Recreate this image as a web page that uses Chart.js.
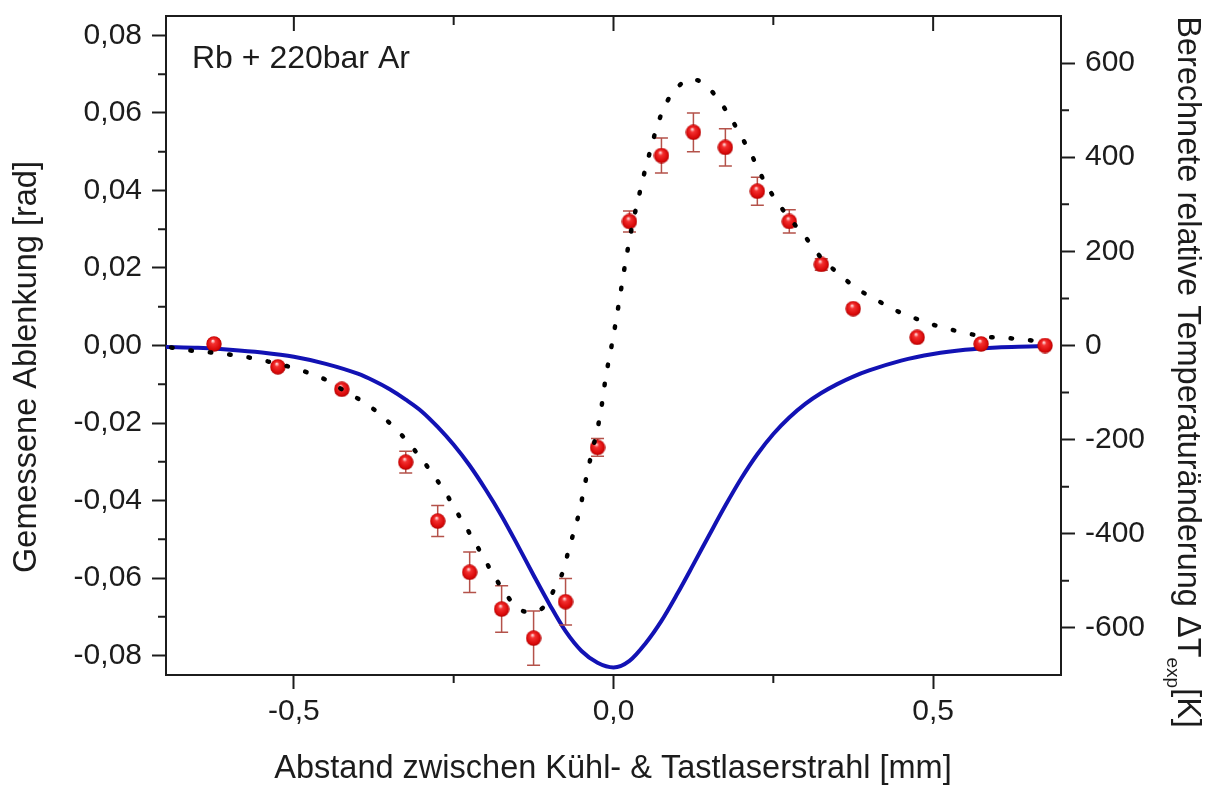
<!DOCTYPE html>
<html lang="de">
<head>
<meta charset="utf-8">
<title>Ablenkung</title>
<script src="https://cdn.jsdelivr.net/npm/chart.js@4.4.1/dist/chart.umd.min.js"></script>
<style>
  html, body { margin: 0; padding: 0; background: #fff; }
  #grafico { display: block; }
</style>
</head>
<body>
<canvas id="grafico" width="1207" height="785"></canvas>
<script>
// Messpunkte: Abstand [mm], Ablenkung [rad], Fehler [rad]
const abstandMess = [-0.625, -0.525, -0.425, -0.325, -0.275, -0.225, -0.175, -0.125, -0.075, -0.025,
                     0.025, 0.075, 0.125, 0.175, 0.225, 0.275, 0.325, 0.375, 0.475, 0.575, 0.675];
const ablenkungMess = [0.0004, -0.0055, -0.0113, -0.0301, -0.0453, -0.0585, -0.0680, -0.0755, -0.0661, -0.0263,
                       0.0320, 0.0490, 0.0550, 0.0511, 0.0398, 0.0320, 0.0209, 0.0095, 0.0021, 0.0004, 0.0000];
const fehlerMess = [0.0008, 0.0008, 0.0010, 0.0028, 0.0040, 0.0052, 0.0060, 0.0070, 0.0060, 0.0023,
                    0.0027, 0.0045, 0.0050, 0.0048, 0.0036, 0.0030, 0.0015, 0.0010, 0.0008, 0.0005, 0.0005];

// Gepunktete Modellkurve (linke Achse)
const abstandModell = [-0.692, -0.661, -0.630, -0.602, -0.570, -0.541, -0.509, -0.478, -0.448, -0.419,
                       -0.387, -0.358, -0.328, -0.302, -0.280, -0.259, -0.241, -0.223, -0.206, -0.189,
                       -0.169, -0.150, -0.135, -0.122, -0.109, -0.092, -0.078, -0.070, -0.061, -0.053,
                       -0.047, -0.041, -0.033, -0.025, -0.018, -0.012, -0.006, 0.000, 0.005, 0.010,
                       0.015, 0.020, 0.027, 0.032, 0.039, 0.046, 0.053, 0.061, 0.070, 0.084,
                       0.105, 0.120, 0.136, 0.150, 0.164, 0.183, 0.200, 0.217, 0.232, 0.250,
                       0.273, 0.300, 0.323, 0.350, 0.381, 0.413, 0.442, 0.472, 0.503, 0.533,
                       0.563, 0.594, 0.625, 0.655, 0.680];
const ablenkungModell = [-0.0005, -0.0013, -0.0018, -0.0023, -0.0031, -0.0041, -0.0054, -0.0070, -0.0090, -0.0119,
                         -0.0150, -0.0188, -0.0237, -0.0289, -0.0338, -0.0390, -0.0441, -0.0490, -0.0539, -0.0588,
                         -0.0640, -0.0677, -0.0687, -0.0686, -0.0674, -0.0627, -0.0578, -0.0526, -0.0475, -0.0426,
                         -0.0377, -0.0328, -0.0270, -0.0215, -0.0150, -0.0080, -0.0027, 0.0026, 0.0075, 0.0125,
                         0.0178, 0.0227, 0.0290, 0.0330, 0.0380, 0.0430, 0.0475, 0.0524, 0.0575, 0.0630,
                         0.0674, 0.0687, 0.0681, 0.0662, 0.0635, 0.0588, 0.0539, 0.0488, 0.0436, 0.0385,
                         0.0333, 0.0280, 0.0230, 0.0188, 0.0147, 0.0116, 0.0090, 0.0070, 0.0052, 0.0039,
                         0.0028, 0.0021, 0.0018, 0.0013, 0.0010];

// Berechnete Temperaturänderung [K] (rechte Achse)
const abstandTemp = [-0.700, -0.650, -0.600, -0.550, -0.500, -0.450, -0.400, -0.375, -0.350, -0.325,
                     -0.300, -0.275, -0.250, -0.225, -0.200, -0.175, -0.150, -0.125, -0.100, -0.075,
                     -0.050, -0.025, 0.000, 0.025, 0.050, 0.075, 0.100, 0.125, 0.150, 0.175,
                     0.200, 0.225, 0.250, 0.275, 0.300, 0.325, 0.350, 0.375, 0.400, 0.450,
                     0.500, 0.550, 0.600, 0.650, 0.675];
const temperaturTemp = [-3, -5, -9, -15, -24, -39, -60, -75, -93, -115,
                        -140, -173, -211, -255, -306, -362, -424, -488, -550, -607,
                        -649, -674, -684, -670, -633, -585, -527, -465, -402, -340,
                        -282, -231, -188, -153, -124, -101, -82, -66, -53, -32,
                        -18, -9, -4, -2, -1];

// Achsenbeschriftung
const ticksX = [-0.5, 0, 0.5];
const ticksXMinor = [-0.25, 0.25];
const ticksLinks = [-0.08, -0.06, -0.04, -0.02, 0, 0.02, 0.04, 0.06, 0.08];
const ticksLinksMinor = [-0.07, -0.05, -0.03, -0.01, 0.01, 0.03, 0.05, 0.07];
const ticksRechts = [-600, -400, -200, 0, 200, 400, 600];
const ticksRechtsMinor = [-500, -300, -100, 100, 300, 500];

const schrift = '"Liberation Sans", Arial, sans-serif';
const farbeText = '#1c1c1c';

const zip = (xs, ys) => xs.map((x, i) => ({ x: x, y: ys[i] }));

// Rote Kugel als Punktsymbol
const kugel = (() => {
    const size = 16;
    const c = document.createElement('canvas');
    c.width = c.height = size;
    const g = c.getContext('2d');
    const r = size / 2;
    const grad = g.createRadialGradient(r * 0.85, r * 0.6, 0.5, r, r, r);
    grad.addColorStop(0, '#ffd6d6');
    grad.addColorStop(0.25, '#f43030');
    grad.addColorStop(0.8, '#d80808');
    grad.addColorStop(1, '#a40000');
    g.fillStyle = grad;
    g.beginPath();
    g.arc(r, r, r - 0.3, 0, Math.PI * 2);
    g.fill();
    return c;
})();

// Fehlerbalken unter den Kugeln
const fehlerbalken = {
    id: 'fehlerbalken',
    beforeDatasetDraw(chart, args) {
        if (args.index !== 1) return;
        const ctx = chart.ctx;
        const sx = chart.scales.x, sy = chart.scales.y;
        ctx.save();
        ctx.strokeStyle = '#b4524a';
        ctx.lineWidth = 1.5;
        abstandMess.forEach((x, i) => {
            const px = sx.getPixelForValue(x);
            const y1 = sy.getPixelForValue(ablenkungMess[i] + fehlerMess[i]);
            const y2 = sy.getPixelForValue(ablenkungMess[i] - fehlerMess[i]);
            ctx.beginPath();
            ctx.moveTo(px, y1); ctx.lineTo(px, y2);
            ctx.moveTo(px - 6.5, y1); ctx.lineTo(px + 6.5, y1);
            ctx.moveTo(px - 6.5, y2); ctx.lineTo(px + 6.5, y2);
            ctx.stroke();
        });
        ctx.restore();
    }
};

// Rahmen oben, kleine Ticks, Achsentitel
const rahmen = {
    id: 'rahmen',
    afterDraw(chart) {
        const ctx = chart.ctx;
        const a = chart.chartArea;
        const sx = chart.scales.x, sy = chart.scales.y, sy2 = chart.scales.y2;
        ctx.save();
        ctx.strokeStyle = farbeText;
        ctx.lineWidth = 2;
        ctx.beginPath();
        ctx.moveTo(a.left - 1, a.top); ctx.lineTo(a.right + 1, a.top);
        ticksX.forEach(v => { const p = sx.getPixelForValue(v); ctx.moveTo(p, a.top); ctx.lineTo(p, a.top + 15); });
        ticksXMinor.forEach(v => {
            const p = sx.getPixelForValue(v);
            ctx.moveTo(p, a.top); ctx.lineTo(p, a.top + 9);
            ctx.moveTo(p, a.bottom); ctx.lineTo(p, a.bottom + 8);
        });
        ticksLinksMinor.forEach(v => { const p = sy.getPixelForValue(v); ctx.moveTo(a.left, p); ctx.lineTo(a.left - 8, p); });
        ticksRechtsMinor.forEach(v => { const p = sy2.getPixelForValue(v); ctx.moveTo(a.right, p); ctx.lineTo(a.right + 8, p); });
        ctx.stroke();

        ctx.fillStyle = farbeText;
        ctx.font = '32px ' + schrift;
        ctx.textBaseline = 'alphabetic';
        ctx.textAlign = 'left';
        ctx.fillText('Rb + 220bar Ar', 192, 68);

        const titel = '32.5px ' + schrift;
        ctx.font = titel;
        ctx.textAlign = 'center';
        ctx.textBaseline = 'middle';
        ctx.fillText('Abstand zwischen Kühl- & Tastlaserstrahl [mm]', 613, 769);

        ctx.save();
        ctx.translate(27, 367);
        ctx.rotate(-Math.PI / 2);
        ctx.fillText('Gemessene Ablenkung [rad]', 0, 0);
        ctx.restore();

        // rechter Titel mit Index
        const teil1 = 'Berechnete relative Temperaturänderung \u0394T';
        const teil2 = 'exp';
        const teil3 = '[K]';
        const klein = '19px ' + schrift;
        ctx.font = titel;
        const w1 = ctx.measureText(teil1).width;
        const w3 = ctx.measureText(teil3).width;
        ctx.font = klein;
        const w2 = ctx.measureText(teil2).width;
        const gesamt = w1 + w2 + w3;
        ctx.save();
        ctx.translate(1190, 372);
        ctx.rotate(Math.PI / 2);
        ctx.textAlign = 'left';
        ctx.textBaseline = 'alphabetic';
        const x0 = -gesamt / 2;
        ctx.font = titel;
        ctx.fillText(teil1, x0, 12);
        ctx.font = klein;
        ctx.fillText(teil2, x0 + w1, 23);
        ctx.font = titel;
        ctx.fillText(teil3, x0 + w1 + w2, 12);
        ctx.restore();
        ctx.restore();
    }
};

const komma = (v, d) => v.toFixed(d).replace('.', ',');

const achse = (extra) => Object.assign({
    type: 'linear',
    border: { display: true, color: farbeText, width: 2 },
    grid: { display: true, drawOnChartArea: false, drawTicks: true, tickLength: 14, tickWidth: 2, tickColor: farbeText },
}, extra);

new Chart(document.getElementById('grafico'), {
    type: 'scatter',
    data: {
        datasets: [
            {
                type: 'line',
                label: 'Modell',
                data: zip(abstandModell, ablenkungModell),
                yAxisID: 'y',
                borderColor: '#000000',
                borderWidth: 4.5,
                borderDash: [1.5, 18],
                borderCapStyle: 'round',
                pointRadius: 0,
                fill: false,
                cubicInterpolationMode: 'monotone'
            },
            {
                label: 'Messung',
                data: zip(abstandMess, ablenkungMess),
                yAxisID: 'y',
                pointStyle: kugel,
                pointRadius: 8,
                showLine: false
            },
            {
                type: 'line',
                label: 'Temperatur',
                data: zip(abstandTemp, temperaturTemp),
                yAxisID: 'y2',
                borderColor: '#1212b4',
                borderWidth: 4,
                pointRadius: 0,
                fill: false,
                cubicInterpolationMode: 'monotone'
            }
        ]
    },
    options: {
        responsive: false,
        animation: false,
        layout: { padding: { top: 16, left: 0, right: 0, bottom: 0 } },
        plugins: { legend: { display: false }, tooltip: { enabled: false } },
        scales: {
            x: achse({
                position: 'bottom',
                min: -0.7, max: 0.7,
                afterBuildTicks: s => { s.ticks = ticksX.map(v => ({ value: v })); },
                afterFit: s => { s.height = 110; s.paddingLeft = 0; s.paddingRight = 0; },
                ticks: { color: farbeText, padding: 8, maxRotation: 0, font: { family: schrift, size: 30, lineHeight: 1 }, callback: v => komma(v, 1) }
            }),
            y: achse({
                position: 'left',
                min: -0.085, max: 0.085,
                afterBuildTicks: s => { s.ticks = ticksLinks.map(v => ({ value: v })); },
                afterFit: s => { s.width = 166; s.paddingTop = 0; s.paddingBottom = 0; },
                ticks: { color: farbeText, padding: 10, font: { family: schrift, size: 30, lineHeight: 1 }, callback: v => komma(v, 2) }
            }),
            y2: achse({
                position: 'right',
                min: -700, max: 700,
                afterBuildTicks: s => { s.ticks = ticksRechts.map(v => ({ value: v })); },
                afterFit: s => { s.width = 146; s.paddingTop = 0; s.paddingBottom = 0; },
                ticks: { color: farbeText, padding: 10, font: { family: schrift, size: 30, lineHeight: 1 }, callback: v => String(v) }
            })
        }
    },
    plugins: [fehlerbalken, rahmen]
});
</script>
</body>
</html>
